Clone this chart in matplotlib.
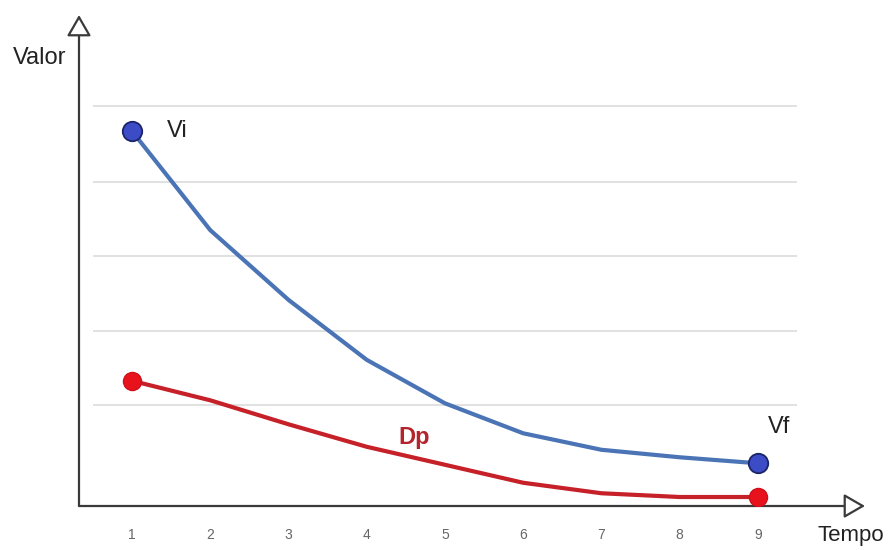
import matplotlib.pyplot as plt

plt.rcParams['font.family'] = ['Liberation Sans', 'DejaVu Sans']

# data (arbitrary units, 0 = x axis)
tempo = [1, 2, 3, 4, 5, 6, 7, 8, 9]
valor_blue = [5.0, 3.68, 2.75, 1.95, 1.37, 0.97, 0.75, 0.65, 0.57]
valor_red = [1.67, 1.41, 1.09, 0.79, 0.55, 0.31, 0.17, 0.12, 0.12]
grid_levels = [1.35, 2.34, 3.33, 4.32, 5.33]
tick_labels = ['1', '2', '3', '4', '5', '6', '7', '8', '9']

fig = plt.figure(figsize=(8.94, 5.5), dpi=100)
ax = fig.add_axes([79 / 894, 44 / 550, 786 / 894, 491 / 550])
ax.set_xlim(0.322, 10.37)
ax.set_ylim(0, 6.55)
for s in ax.spines.values():
    s.set_visible(False)

# light horizontal gridlines
ax.hlines(grid_levels, 0.5, 9.5, color='#d9d9d9', lw=1.1, zorder=1)

# axes with hollow arrow heads
arrow = dict(arrowstyle='-|>,head_length=1.3,head_width=0.75', fc='white', ec='#3a3a3a', lw=1.6,
             shrinkA=0, shrinkB=0)
ax.annotate('', xy=(0, 1), xytext=(0, 0), xycoords='axes fraction', arrowprops=arrow)
ax.annotate('', xy=(1, 0), xytext=(0, 0), xycoords='axes fraction', arrowprops=arrow)

# curves
ax.plot(tempo, valor_blue, color='#4a74b5', lw=3, solid_capstyle='round', solid_joinstyle='round', zorder=3)
ax.plot(tempo, valor_red, color='#c62028', lw=3, solid_capstyle='round', solid_joinstyle='round', zorder=3)
ax.plot([tempo[0], tempo[-1]], [valor_blue[0], valor_blue[-1]], 'o', ms=14,
        mfc='#3c4bc6', mec='#1b2466', mew=1.3, zorder=4)
ax.plot([tempo[0], tempo[-1]], [valor_red[0], valor_red[-1]], 'o', ms=13,
        mfc='#e8121c', mec='#d0101a', mew=1, zorder=4)

# ticks
ax.set_xticks(tempo)
ax.set_xticklabels(tick_labels, color='#666666', fontsize=10)
ax.tick_params(axis='x', length=0, pad=16)
ax.set_yticks([])

# labels
ax.text(-0.18, 5.97, 'Valor', fontsize=17, color='#222222', ha='center', va='center')
ax.text(10.19, -0.40, 'Tempo', fontsize=16, color='#222222', ha='center', va='center')
ax.text(1.45, valor_blue[0], 'Vi', fontsize=17, color='#222222', ha='left', va='center')
ax.text(9.13, 1.05, 'Vf', fontsize=17, color='#222222', ha='left', va='center')
ax.text(4.6, 0.91, 'Dp', fontsize=17, color='#b3242c', fontweight='bold', ha='center', va='center')

fig.savefig('out.png', dpi=100)
